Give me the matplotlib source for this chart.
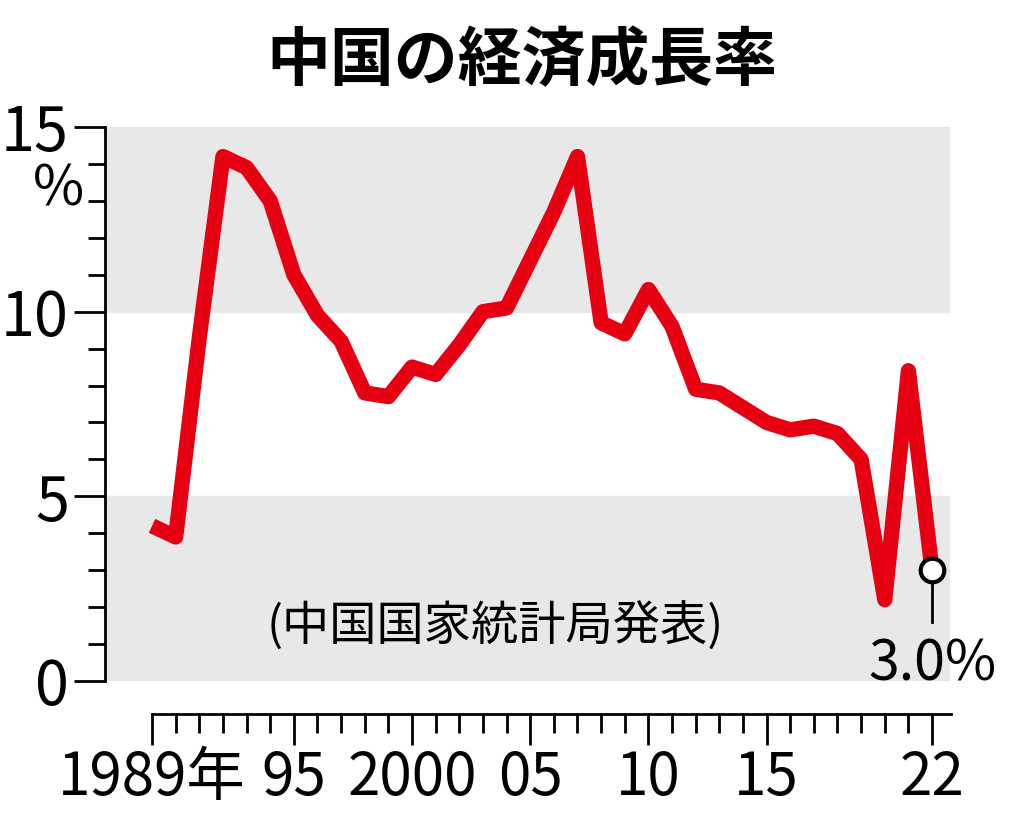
import matplotlib
matplotlib.use("Agg")
import matplotlib.pyplot as plt

plt.rcParams["font.family"] = ["Noto Sans CJK JP", "DejaVu Sans"]

years = list(range(1989, 2023))
growth = [4.2, 3.9, 9.3, 14.2, 13.9, 13.0, 11.0, 9.9, 9.2, 7.8, 7.7, 8.5,
          8.3, 9.1, 10.0, 10.1, 11.4, 12.7, 14.2, 9.7, 9.4, 10.6, 9.6, 7.9,
          7.8, 7.4, 7.0, 6.8, 6.9, 6.7, 6.0, 2.2, 8.4, 3.0]
xtick_years = [1989, 1995, 2000, 2005, 2010, 2015, 2022]
xtick_labels = ["1989年", "95", "2000", "05", "10", "15", "22"]
ytick_vals = [0, 5, 10, 15]
ytick_labels = ["0", "5", "10", "15"]

fig = plt.figure(figsize=(10.24, 8.14), dpi=100)
ax = fig.add_axes([105 / 1024, 133 / 814, 845 / 1024, 554 / 814])
ax.set_xlim(1987.01, 2022.76)
ax.set_ylim(0, 15)

# gray bands
ax.axhspan(0, 5, color="#e8e8e8", zorder=0)
ax.axhspan(10, 15, color="#e8e8e8", zorder=0)

ax.plot(years, growth, color="#e60012", lw=11, solid_joinstyle="round",
        solid_capstyle="butt", zorder=3)
ax.plot(years[-1], growth[-1], "o", ms=17, mfc="white", mec="black", mew=3, zorder=5)
ax.plot([2022, 2022], [1.6, 2.7], color="black", lw=2, zorder=4)
ax.text(2022, 0.45, "3.0%", ha="center", va="center", fontsize=40, zorder=6)
ax.text(2003.5, 1.45, "(中国国家統計局発表)", ha="center", va="center", fontsize=34)

for s in ["top", "right"]:
    ax.spines[s].set_visible(False)
ax.spines["left"].set_linewidth(2)
ax.spines["bottom"].set_position(("outward", 24))
ax.spines["bottom"].set_bounds(1989, 2022.8)
ax.spines["bottom"].set_linewidth(2)

ax.set_yticks(ytick_vals)
ax.set_yticklabels(ytick_labels, fontsize=44)
ax.set_yticks(range(0, 16), minor=True)
ax.tick_params(axis="y", which="major", length=22, width=2, pad=4)
ax.tick_params(axis="y", which="minor", length=12, width=2)
ax.text(-0.055, 13.3, "%", transform=ax.get_yaxis_transform(),
        ha="center", va="center", fontsize=40)

ax.set_xticks(xtick_years)
ax.set_xticklabels(xtick_labels, fontsize=42)
ax.set_xticks(years, minor=True)
ax.tick_params(axis="x", which="major", length=22, width=2, pad=2)
ax.tick_params(axis="x", which="minor", length=14, width=2)

fig.text(0.51, 0.925, "中国の経済成長率", ha="center", va="center",
         fontsize=46, fontweight="bold")

plt.savefig("out.png", dpi=100)
plt.close()
